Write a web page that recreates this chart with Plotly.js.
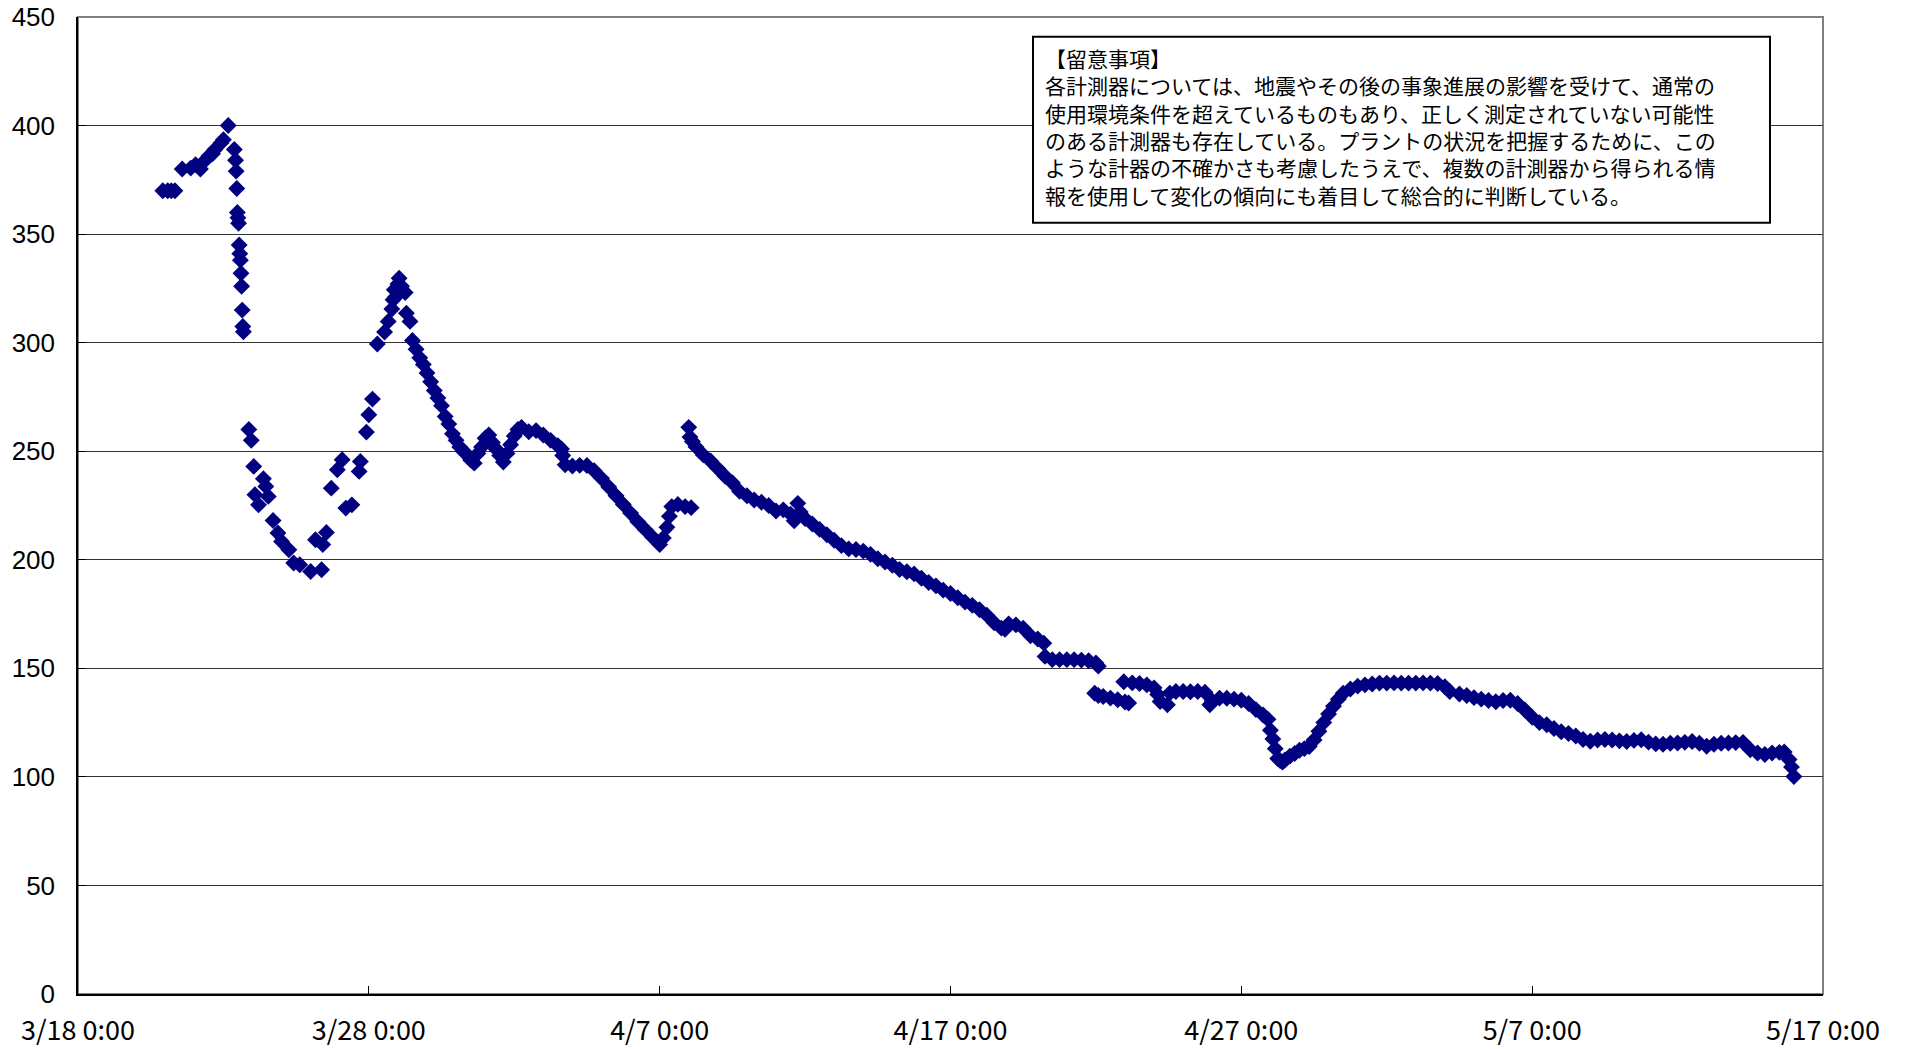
<!DOCTYPE html>
<html>
<head>
<meta charset="utf-8">
<script src="https://cdn.plot.ly/plotly-3.0.1.min.js"></script>
<style>
html,body{margin:0;padding:0;background:#fff;}
#chart{width:1908px;height:1049px;}
</style>
</head>
<body>
<div id="chart"></div>
<script>
// ---- data ----
var readingTimes = [
"2011-03-20 22:00","2011-03-21 02:00","2011-03-21 05:00","2011-03-21 08:00","2011-03-21 14:00",
"2011-03-21 21:00","2011-03-22 01:00","2011-03-22 05:00","2011-03-22 08:00","2011-03-22 12:00",
"2011-03-22 15:00","2011-03-22 17:00","2011-03-22 22:00","2011-03-23 00:00","2011-03-23 04:00",
"2011-03-23 09:00","2011-03-23 10:00","2011-03-23 10:30","2011-03-23 11:00","2011-03-23 11:30",
"2011-03-23 12:00","2011-03-23 12:30","2011-03-23 13:00","2011-03-23 13:30","2011-03-23 14:00",
"2011-03-23 14:30","2011-03-23 15:00","2011-03-23 15:30","2011-03-23 16:00","2011-03-23 16:30",
"2011-03-23 21:00","2011-03-23 23:00","2011-03-24 01:00","2011-03-24 02:00","2011-03-24 05:00",
"2011-03-24 09:00","2011-03-24 11:00","2011-03-24 13:00","2011-03-24 17:00","2011-03-24 21:00",
"2011-03-25 00:00","2011-03-25 06:00","2011-03-25 10:00","2011-03-25 15:00","2011-03-26 00:00",
"2011-03-26 04:00","2011-03-26 09:00","2011-03-26 10:00","2011-03-26 13:00","2011-03-26 17:00",
"2011-03-26 22:00","2011-03-27 02:00","2011-03-27 05:00","2011-03-27 10:00","2011-03-27 16:00",
"2011-03-27 17:00","2011-03-27 22:00","2011-03-28 00:00","2011-03-28 03:00","2011-03-28 07:00",
"2011-03-28 13:00","2011-03-28 16:00","2011-03-28 19:00","2011-03-28 20:00","2011-03-28 21:00",
"2011-03-28 22:00","2011-03-28 23:00","2011-03-29 00:00","2011-03-29 01:00","2011-03-29 03:00",
"2011-03-29 06:00","2011-03-29 07:00","2011-03-29 10:00",
"2011-03-29 12:00","2011-03-29 15:00","2011-03-29 18:00","2011-03-29 21:00","2011-03-30 00:00",
"2011-03-30 03:00","2011-03-30 06:00","2011-03-30 09:00","2011-03-30 12:00","2011-03-30 15:00",
"2011-03-30 18:00","2011-03-30 21:00","2011-03-31 00:00","2011-03-31 03:00","2011-03-31 06:00",
"2011-03-31 09:00","2011-03-31 12:00","2011-03-31 15:00","2011-03-31 18:00","2011-03-31 21:00",
"2011-04-01 00:00","2011-04-01 03:00","2011-04-01 06:00","2011-04-01 09:00","2011-04-01 12:00",
"2011-04-01 15:00","2011-04-01 18:00","2011-04-01 21:00","2011-04-02 00:00","2011-04-02 03:00",
"2011-04-02 06:00","2011-04-02 12:00","2011-04-02 18:00","2011-04-03 00:00","2011-04-03 06:00",
"2011-04-03 12:00","2011-04-03 15:00","2011-04-03 16:00","2011-04-03 18:00","2011-04-04 00:00",
"2011-04-04 06:00","2011-04-04 12:00","2011-04-04 18:00","2011-04-05 00:00","2011-04-05 06:00",
"2011-04-05 12:00","2011-04-05 18:00","2011-04-06 00:00","2011-04-06 06:00","2011-04-06 12:00",
"2011-04-06 18:00","2011-04-07 00:00","2011-04-07 03:00","2011-04-07 06:00","2011-04-07 08:00",
"2011-04-07 10:00","2011-04-07 15:00","2011-04-07 21:00","2011-04-08 02:00",
"2011-04-08 00:00","2011-04-08 01:00","2011-04-08 03:00","2011-04-08 06:00","2011-04-08 12:00",
"2011-04-08 18:00","2011-04-09 00:00","2011-04-09 06:00","2011-04-09 12:00","2011-04-09 18:00",
"2011-04-10 00:00","2011-04-10 06:00","2011-04-10 12:00","2011-04-10 18:00","2011-04-11 00:00",
"2011-04-11 06:00","2011-04-11 12:00","2011-04-11 15:00","2011-04-11 18:00","2011-04-11 20:00",
"2011-04-12 00:00","2011-04-12 06:00","2011-04-12 12:00","2011-04-12 18:00","2011-04-13 00:00",
"2011-04-13 06:00","2011-04-13 12:00","2011-04-13 18:00","2011-04-14 00:00","2011-04-14 06:00",
"2011-04-14 12:00","2011-04-14 18:00","2011-04-15 00:00","2011-04-15 06:00","2011-04-15 12:00",
"2011-04-15 18:00","2011-04-16 00:00","2011-04-16 06:00","2011-04-16 12:00","2011-04-16 18:00",
"2011-04-17 00:00","2011-04-17 06:00","2011-04-17 12:00","2011-04-17 18:00","2011-04-18 00:00",
"2011-04-18 06:00","2011-04-18 12:00","2011-04-18 18:00","2011-04-18 21:00","2011-04-19 00:00",
"2011-04-19 06:00","2011-04-19 12:00","2011-04-19 18:00","2011-04-20 00:00","2011-04-20 05:00",
"2011-04-20 06:00","2011-04-20 12:00","2011-04-20 18:00","2011-04-21 00:00","2011-04-21 06:00",
"2011-04-21 12:00","2011-04-21 18:00","2011-04-22 00:00","2011-04-22 02:00",
"2011-04-21 23:00","2011-04-22 02:00","2011-04-22 06:00","2011-04-22 12:00","2011-04-22 18:00",
"2011-04-23 00:00","2011-04-23 03:00",
"2011-04-22 23:00","2011-04-23 06:00","2011-04-23 12:00","2011-04-23 18:00","2011-04-24 00:00",
"2011-04-24 03:00","2011-04-24 05:00","2011-04-24 11:00","2011-04-24 13:00","2011-04-24 18:00",
"2011-04-25 00:00","2011-04-25 06:00","2011-04-25 12:00","2011-04-25 18:00","2011-04-25 22:00",
"2011-04-26 00:00","2011-04-26 06:00","2011-04-26 12:00","2011-04-26 18:00","2011-04-27 00:00",
"2011-04-27 06:00","2011-04-27 12:00","2011-04-27 18:00","2011-04-27 22:00","2011-04-28 00:00",
"2011-04-28 02:00","2011-04-28 04:00","2011-04-28 06:00","2011-04-28 08:00","2011-04-28 10:00",
"2011-04-28 12:00","2011-04-28 16:00","2011-04-28 20:00","2011-04-29 00:00","2011-04-29 04:00",
"2011-04-29 08:00","2011-04-29 12:00","2011-04-29 16:00","2011-04-29 20:00","2011-04-30 00:00",
"2011-04-30 04:00","2011-04-30 08:00","2011-04-30 12:00","2011-04-30 18:00","2011-05-01 00:00",
"2011-05-01 06:00","2011-05-01 12:00","2011-05-01 18:00","2011-05-02 00:00","2011-05-02 06:00",
"2011-05-02 12:00","2011-05-02 18:00","2011-05-03 00:00","2011-05-03 06:00","2011-05-03 12:00",
"2011-05-03 18:00","2011-05-04 00:00","2011-05-04 04:00","2011-05-04 12:00","2011-05-04 18:00",
"2011-05-05 00:00","2011-05-05 06:00","2011-05-05 12:00","2011-05-05 18:00","2011-05-06 00:00",
"2011-05-06 06:00","2011-05-06 12:00","2011-05-06 18:00","2011-05-07 00:00","2011-05-07 06:00",
"2011-05-07 12:00","2011-05-07 18:00","2011-05-08 00:00","2011-05-08 06:00","2011-05-08 12:00",
"2011-05-08 18:00","2011-05-09 00:00","2011-05-09 06:00","2011-05-09 12:00","2011-05-09 18:00",
"2011-05-10 00:00","2011-05-10 06:00","2011-05-10 12:00","2011-05-10 18:00","2011-05-11 00:00",
"2011-05-11 06:00","2011-05-11 12:00","2011-05-11 18:00","2011-05-12 00:00","2011-05-12 06:00",
"2011-05-12 12:00","2011-05-12 18:00","2011-05-13 00:00","2011-05-13 06:00","2011-05-13 12:00",
"2011-05-13 18:00","2011-05-14 00:00","2011-05-14 06:00","2011-05-14 12:00","2011-05-14 18:00",
"2011-05-15 00:00","2011-05-15 06:00","2011-05-15 12:00","2011-05-15 16:00","2011-05-15 20:00",
"2011-05-15 22:00","2011-05-16 00:00"
];
var readingValues = [
370,370,370,370,380,
380.4,382,380,383.5,386,
387,389,392,393.5,400,
389,384,379,371,360,
357.5,355,345,341,338,
332,326,315,307.5,305,
260,255,243,230,225.3,
237.3,233.8,229.2,218.1,212.3,
208.4,204.6,198.5,197.7,194.6,
209.2,195.4,207,212.6,233,
241.5,246.1,223.8,225.3,240.7,
245.3,258.8,266.8,274,299.4,
304.9,309.8,315.5,319.8,324.4,
321,323.6,327,329.7,326,
323.1,313.6,309.8,
301,297,293,290,286,
282,278,274.5,271,266,
262.5,258,255,252,250,
248.5,246,244.5,249,252,
256,257.5,254,251,248,
245,249,253,257,260,
261,259,259.5,257.5,255,
252.5,251,248,243.8,243.2,
243.5,243.4,241,237.5,233.5,
229.5,225.5,221.5,217.5,214,
210.5,207,210,215,220,
224.5,225.5,224.5,224,
261,256.5,254.5,252,248.3,
245.5,242,238.5,235.5,231.5,
229.5,227.5,226.5,225,222.5,
223,221,218,226,222,
219,216.5,214,211.5,209,
206.5,205,204.7,204,202.5,
200.5,199,197.5,195.5,194.5,
193.5,191.5,189.5,188,186,
184.5,182.5,180.5,179,177,
174.5,171,168.5,168,170.5,
170,168.5,165,163.5,161.6,
155.5,154,154,154,154,
153.8,153.5,152.5,151,
138.5,137.5,137,136.3,135.5,
134.5,134,
143.8,143.3,143,142.4,141,
138,134.7,133.2,138.6,139.3,
139.3,139.2,139.3,139,133.2,
135,136.3,136.2,135.8,135.3,
133.8,131,128.5,126.5,121.5,
117.5,113,108.5,107.5,106.8,
107.8,109.5,110.8,112.3,113,
114,117,121,125,129,
132.5,135.8,138.5,140.5,141.8,
142.4,142.8,143.2,143.2,143.3,
143.2,143.2,143.2,143.3,143.2,
143,141.5,139.3,138.2,137.5,
136.5,135.8,135.2,134.6,135.2,
135.3,133.8,130.8,127.5,125,
124,122.3,120.8,120,118.8,
117.2,116.4,117,117.2,117,
116.6,116.3,116.8,117.1,116,
115.2,115,115.5,115.6,115.9,
116.3,115.5,114.1,115,115.5,
115.6,115.8,115.9,112.5,111,
110.3,111,111.3,111.5,108,
104.5,100.2
];

var tickDates  = ["2011-03-18 00:00","2011-03-28 00:00","2011-04-07 00:00","2011-04-17 00:00","2011-04-27 00:00","2011-05-07 00:00","2011-05-17 00:00"];
var tickLabels = ["3/18 0:00","3/28 0:00","4/7 0:00","4/17 0:00","4/27 0:00","5/7 0:00","5/17 0:00"];
var yTickValues = [0,50,100,150,200,250,300,350,400,450];

var noteLines = [
"【留意事項】",
"各計測器については、地震やその後の事象進展の影響を受けて、通常の",
"使用環境条件を超えているものもあり、正しく測定されていない可能性",
"のある計測器も存在している。プラントの状況を把握するために、この",
"ような計器の不確かさも考慮したうえで、複数の計測器から得られる情",
"報を使用して変化の傾向にも着目して総合的に判断している。"
];

// ---- chart ----
var FONT = "'Noto Sans CJK JP', 'Noto Sans', sans-serif";
var NUMFONT = "'Liberation Sans', Arial, sans-serif";

var trace = {
  type: 'scatter',
  mode: 'markers',
  x: readingTimes,
  y: readingValues,
  marker: {symbol: 'diamond', size: 13, color: '#000080', line: {width: 0}},
  hoverinfo: 'x+y',
  showlegend: false
};

var layout = {
  width: 1908, height: 1049,
  margin: {l: 78, r: 85, t: 17, b: 55, pad: 0},
  paper_bgcolor: '#ffffff',
  plot_bgcolor: '#ffffff',
  showlegend: false,
  xaxis: {
    type: 'date',
    range: [tickDates[0], tickDates[tickDates.length - 1]],
    tickmode: 'array',
    tickvals: tickDates,
    ticktext: tickLabels,
    ticks: 'inside', ticklen: 8, tickwidth: 1, tickcolor: '#000',
    showgrid: false, zeroline: false,
    showline: true, linecolor: '#000', linewidth: 1.5,
    tickfont: {family: FONT, size: 27, color: '#000'},
    ticklabelstandoff: 12,
    ticklabeloverflow: 'allow'
  },
  yaxis: {
    range: [0, 450],
    tickmode: 'array',
    tickvals: yTickValues,
    ticktext: yTickValues.map(String),
    ticks: 'inside', ticklen: 8, tickwidth: 1, tickcolor: '#000',
    showgrid: true, gridcolor: '#333333', gridwidth: 1,
    zeroline: false,
    showline: true, linecolor: '#000', linewidth: 1.5,
    tickfont: {family: NUMFONT, size: 26, color: '#000'},
    ticklabelstandoff: 16,
    ticklabeloverflow: 'allow'
  },
  shapes: [
    {type: 'rect', xref: 'paper', yref: 'paper', x0: 0, x1: 1, y0: 0, y1: 1,
     line: {color: '#808080', width: 2}, fillcolor: 'rgba(0,0,0,0)', layer: 'below'},
    {type: 'rect', xref: 'paper', yref: 'paper',
     x0: (1033 - 78) / 1745, x1: (1770 - 78) / 1745,
     y0: (994 - 222.7) / 977, y1: (994 - 36.7) / 977,
     line: {color: '#000', width: 2}, fillcolor: '#ffffff', layer: 'above'}
  ],
  annotations: [{
    xref: 'paper', yref: 'paper',
    x: (1044 - 78) / 1745, y: (994 - 42) / 977,
    xanchor: 'left', yanchor: 'top', align: 'left',
    text: noteLines.join('<br>'), showarrow: false, borderpad: 0,
    font: {family: FONT, size: 21, color: '#000'}
  }]
};

Plotly.newPlot('chart', [trace], layout, {displayModeBar: false, responsive: false});
</script>
</body>
</html>
